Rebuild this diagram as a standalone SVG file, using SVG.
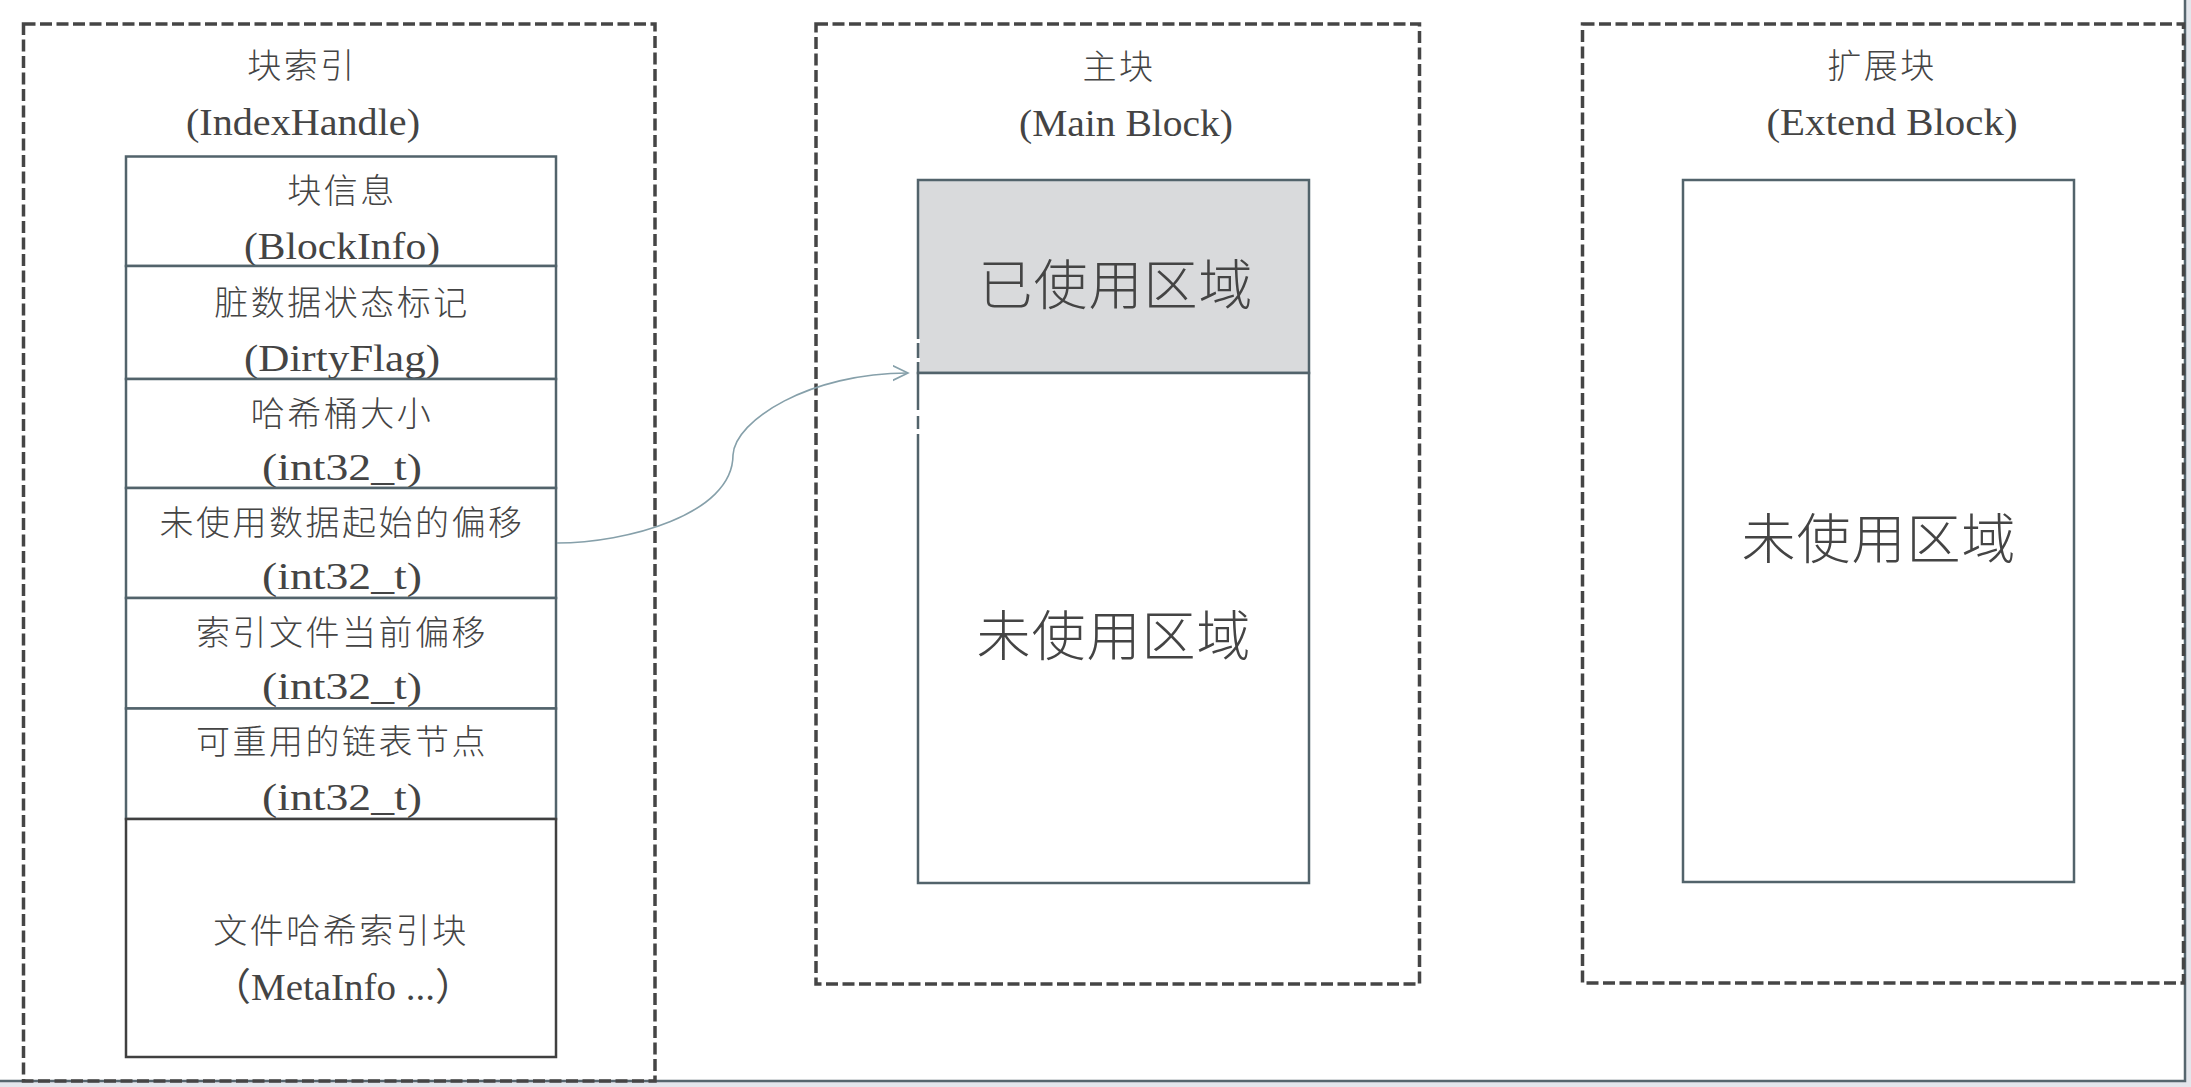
<svg xmlns="http://www.w3.org/2000/svg" width="2191" height="1087" viewBox="0 0 2191 1087">
  <style>
    .bg { fill: #ffffff; }
    .band { fill: #e3e6ec; }
    .frame { stroke: #56666e; stroke-width: 2.5; fill: none; }
    .group { fill: none; stroke: #454545; stroke-width: 3.5; stroke-dasharray: 12 4.5; }
    .cell { fill: #ffffff; stroke: #52636b; stroke-width: 2.5; }
    .cell-dark { fill: #ffffff; stroke: #404040; stroke-width: 2.5; }
    .used { fill: #d9dadc; stroke: #52636b; stroke-width: 2.5; }
    .cn { font-family: "Noto Sans CJK SC", "Noto Sans", sans-serif; font-weight: 300; font-size: 34px; letter-spacing: 2.5px; fill: #444444; text-anchor: middle; dominant-baseline: central; }
    .cn-big { font-family: "Noto Sans CJK SC", "Noto Sans", sans-serif; font-weight: 300; font-size: 54px; letter-spacing: 1px; fill: #444444; text-anchor: middle; dominant-baseline: central; }
    .en { font-family: "Liberation Serif", "Noto Sans CJK SC", serif; font-size: 38px; fill: #444444; text-anchor: middle; dominant-baseline: central; }
    .link { fill: none; stroke: #86a0aa; stroke-width: 1.6; }
    .gap { stroke: #ffffff; stroke-width: 4; }
  </style>
  <defs>
    <marker id="open-arrow" markerUnits="userSpaceOnUse" markerWidth="18" markerHeight="18" refX="15.5" refY="8" orient="auto">
      <path d="M0,0.5 L15.5,8 L0,15.5" fill="none" stroke="#86a0aa" stroke-width="1.6"/>
    </marker>
  </defs>

  <rect class="bg" x="0" y="0" width="2191" height="1087"/>
  <!-- window edge -->
  <rect class="band" x="0" y="1082" width="2191" height="5"/>
  <rect class="band" x="2186" y="0" width="5" height="1087"/>
  <path class="frame" d="M0,1081 H2185 V0"/>

  <!-- index handle -->
  <g id="index-handle">
    <rect class="group" x="23.5" y="24" width="631.5" height="1057"/>
    <text class="cn" x="302" y="63">块索引</text>
    <text class="en" x="303" y="122" textLength="234" lengthAdjust="spacingAndGlyphs">(IndexHandle)</text>
  </g>

  <g id="block-info">
    <rect class="cell" x="126" y="156.5" width="430" height="109.5"/>
    <text class="cn" x="342" y="188">块信息</text>
    <text class="en" x="342" y="246" textLength="196" lengthAdjust="spacingAndGlyphs">(BlockInfo)</text>
  </g>
  <g id="dirty-flag">
    <rect class="cell" x="126" y="266" width="430" height="113"/>
    <text class="cn" x="342" y="300">脏数据状态标记</text>
    <text class="en" x="342" y="357.5" textLength="196" lengthAdjust="spacingAndGlyphs">(DirtyFlag)</text>
  </g>
  <g id="bucket-size">
    <rect class="cell" x="126" y="379" width="430" height="109"/>
    <text class="cn" x="342" y="411">哈希桶大小</text>
    <text class="en" x="342" y="467" textLength="160" lengthAdjust="spacingAndGlyphs">(int32_t)</text>
  </g>
  <g id="free-data-offset">
    <rect class="cell" x="126" y="488" width="430" height="110"/>
    <text class="cn" x="342" y="520">未使用数据起始的偏移</text>
    <text class="en" x="342" y="576" textLength="160" lengthAdjust="spacingAndGlyphs">(int32_t)</text>
  </g>
  <g id="index-file-offset">
    <rect class="cell" x="126" y="598" width="430" height="110.5"/>
    <text class="cn" x="342" y="630">索引文件当前偏移</text>
    <text class="en" x="342" y="686" textLength="160" lengthAdjust="spacingAndGlyphs">(int32_t)</text>
  </g>
  <g id="reuse-list-node">
    <rect class="cell" x="126" y="708.5" width="430" height="110.5"/>
    <text class="cn" x="342" y="739">可重用的链表节点</text>
    <text class="en" x="342" y="796.5" textLength="160" lengthAdjust="spacingAndGlyphs">(int32_t)</text>
  </g>
  <g id="hash-index-block">
    <rect class="cell-dark" x="126" y="819" width="430" height="238"/>
    <text class="cn" x="341" y="928">文件哈希索引块</text>
    <text class="en" x="343" y="986.5" textLength="262" lengthAdjust="spacingAndGlyphs">（MetaInfo ...）</text>
  </g>

  <!-- main block -->
  <g id="main-block">
    <rect class="group" x="816" y="24" width="603.5" height="960"/>
    <text class="cn" x="1119" y="64">主块</text>
    <text class="en" x="1126" y="123" textLength="214" lengthAdjust="spacingAndGlyphs">(Main Block)</text>
  </g>
  <g id="main-used">
    <rect class="used" x="918" y="180" width="391" height="193"/>
    <text class="cn-big" x="1116" y="281">已使用区域</text>
  </g>
  <g id="main-free">
    <rect class="cell" x="918" y="373" width="391" height="510"/>
    <line class="gap" x1="918" y1="339" x2="918" y2="343"/>
    <line class="gap" x1="918" y1="358" x2="918" y2="362"/>
    <line class="gap" x1="918" y1="410" x2="918" y2="416"/>
    <line class="gap" x1="918" y1="429" x2="918" y2="434"/>
    <text class="cn-big" x="1114" y="632">未使用区域</text>
  </g>

  <!-- extend block -->
  <g id="extend-block">
    <rect class="group" x="1582.5" y="24" width="601" height="959"/>
    <text class="cn" x="1882" y="63">扩展块</text>
    <text class="en" x="1892" y="122" textLength="251" lengthAdjust="spacingAndGlyphs">(Extend Block)</text>
  </g>
  <g id="extend-free">
    <rect class="cell" x="1683" y="180" width="391" height="702"/>
    <text class="cn-big" x="1879" y="535">未使用区域</text>
  </g>

  <!-- connectors -->
  <g id="connectors">
    <path class="link" d="M557,543 C625,543 733,515 733,455 C735,420 810,373 908,373" marker-end="url(#open-arrow)"/>
  </g>
</svg>
